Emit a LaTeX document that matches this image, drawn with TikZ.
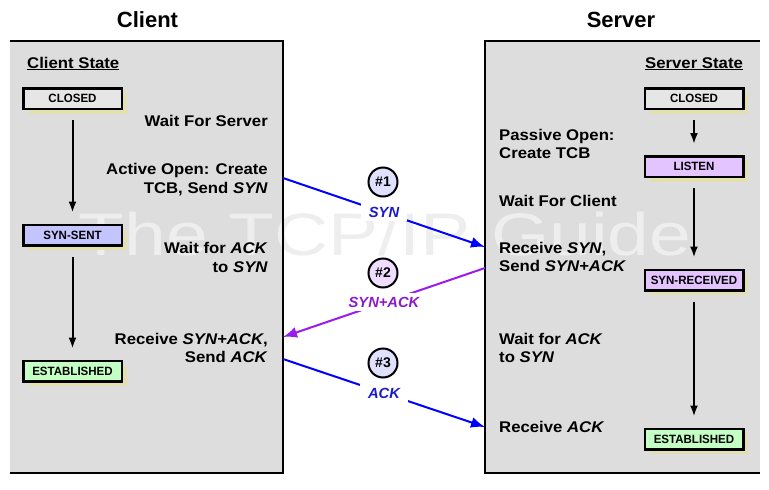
\documentclass[tikz,border=0pt]{standalone}
\usepackage{fontspec}
\setmainfont{Liberation Sans}
\newfontfamily\bodyfont[FakeStretch=1.08]{Liberation Sans}
\newfontfamily\statefont[FakeStretch=0.96]{Liberation Sans}
\usetikzlibrary{arrows.meta,shadows}
\definecolor{boxbg}{HTML}{DDDDDD}
\definecolor{shadowc}{HTML}{E4DFB0}
\definecolor{closedc}{HTML}{E6E6E6}
\definecolor{sentc}{HTML}{C4C4FF}
\definecolor{listenc}{HTML}{E4C4FF}
\definecolor{estc}{HTML}{C4FFC4}
\definecolor{wmark}{HTML}{EEEEEE}
\definecolor{msgblue}{HTML}{0000FF}
\definecolor{lblblue}{HTML}{1A1ACC}
\definecolor{msgpurple}{HTML}{9A1AF0}
\definecolor{lblpurple}{HTML}{8A1ACC}
\definecolor{circA}{HTML}{E0E0FF}
\definecolor{circB}{HTML}{EEDDFF}
\begin{document}
\begin{tikzpicture}[x=1pt,y=-1pt,
  statebox/.style={draw=black, line width=2.5pt, minimum width=98.5pt, minimum height=20.5pt,
    inner sep=0pt, font=\statefont\bfseries\fontsize{12}{13}\selectfont,
    general shadow={fill=shadowc, shadow xshift=5pt, shadow yshift=-5pt}},
  ctext/.style={font=\bodyfont\bfseries\fontsize{15.5}{18.5}\selectfont, inner sep=0pt},
  title/.style={font=\bfseries\fontsize{22}{24}\selectfont, inner sep=0pt},
  sarrow/.style={-{Latex[length=11pt,width=8pt]}, line width=2pt, black,
    shorten >=11pt, shorten <=10pt},
  msg/.style={-{Latex[length=14pt,width=11pt]}, line width=2pt},
  msglabel/.style={fill=white, inner xsep=8pt, inner ysep=4pt,
    font=\bfseries\itshape\fontsize{14.7}{16}\selectfont},
  stepcirc/.style={circle, draw=black, line width=2pt, minimum size=29pt,
    inner sep=0pt, font=\bfseries\fontsize{14}{15}\selectfont}
]
\useasboundingbox (0,0) rectangle (769,490);
% titles
\node[title, anchor=base] (tclient) at (147.5,27) {Client};
\node[title, anchor=base] (tserver) at (621,27) {Server};
% panels
\fill[boxbg] (10,41) rectangle (283,473);
\fill[boxbg] (485,41) rectangle (760,473);
% watermark
\node[anchor=base, inner sep=0pt, text=wmark, xscale=1.25,
  font=\fontsize{60}{60}\selectfont] (wm) at (385,255) {The TCP/IP Guide};
% panel borders
\draw[line width=2.5pt] (10,41) -- (283,41) -- (283,473) -- (10,473);
\draw[line width=2.5pt] (760,41) -- (485,41) -- (485,473) -- (760,473);
% state headers
\node[ctext, anchor=base west] (cstate) at (27,68) {\underline{Client State}};
\node[ctext, anchor=base west] (sstate) at (645,68) {\underline{Server State}};
% client states
\node[statebox, fill=closedc] (cclosed) at (72.5,98.5) {CLOSED};
\node[statebox, fill=sentc] (csent) at (72.5,235) {SYN-SENT};
\node[statebox, fill=estc] (cest) at (72.5,371) {ESTABLISHED};
\draw[sarrow] (cclosed) -- (csent);
\draw[sarrow] (csent) -- (cest);
% server states
\node[statebox, fill=closedc] (sclosed) at (694,98.5) {CLOSED};
\node[statebox, fill=listenc] (slisten) at (694,166.5) {LISTEN};
\node[statebox, fill=listenc] (srecv) at (694,280) {SYN-RECEIVED};
\node[statebox, fill=estc] (sest) at (694,439) {ESTABLISHED};
\draw[sarrow] (sclosed) -- (slisten);
\draw[sarrow] (slisten) -- (srecv);
\draw[sarrow] (srecv) -- (sest);
% client texts
\node[ctext, anchor=base east] (c1) at (268,126) {Wait For Server};
\node[ctext, anchor=base east] (c2a) at (268,174.5) {Active Open: Create};
\node[ctext, anchor=base east] (c2b) at (268,193) {TCB, Send \textit{SYN}};
\node[ctext, anchor=base east] (c3a) at (268,253.5) {Wait for \textit{ACK}};
\node[ctext, anchor=base east] (c3b) at (268,272) {to \textit{SYN}};
\node[ctext, anchor=base east] (c4a) at (268,344) {Receive \textit{SYN+ACK},};
\node[ctext, anchor=base east] (c4b) at (268,362) {Send \textit{ACK}};
% server texts
\node[ctext, anchor=base west] (s1a) at (499,140) {Passive Open:};
\node[ctext, anchor=base west] (s1b) at (499,158) {Create TCB};
\node[ctext, anchor=base west] (s2) at (499,206) {Wait For Client};
\node[ctext, anchor=base west] (s3a) at (499,253.5) {Receive \textit{SYN},};
\node[ctext, anchor=base west] (s3b) at (499,271.5) {Send \textit{SYN+ACK}};
\node[ctext, anchor=base west] (s4a) at (499,344) {Wait for \textit{ACK}};
\node[ctext, anchor=base west] (s4b) at (499,362) {to \textit{SYN}};
\node[ctext, anchor=base west] (s5) at (499,432.5) {Receive \textit{ACK}};
% message endpoints
\coordinate (synA) at (283,178);
\coordinate (synB) at (485,247);
\coordinate (saA) at (485,268);
\coordinate (saB) at (283,337);
\coordinate (ackA) at (283,359);
\coordinate (ackB) at (485,427);
% messages
\draw[msg, msgblue] (synA) -- (synB);
\draw[msg, msgpurple] (saA) -- (saB);
\draw[msg, msgblue] (ackA) -- (ackB);
\node[msglabel, text=lblblue] (lsyn) at (384,212) {SYN};
\node[msglabel, text=lblpurple] (lsa) at (384,302) {SYN+ACK};
\node[msglabel, text=lblblue] (lack) at (384,393) {ACK};
\node[stepcirc, fill=circA] (n1) at (383,182) {\#1};
\node[stepcirc, fill=circB] (n2) at (383,273) {\#2};
\node[stepcirc, fill=circA] (n3) at (383,363) {\#3};
\end{tikzpicture}
\end{document}
